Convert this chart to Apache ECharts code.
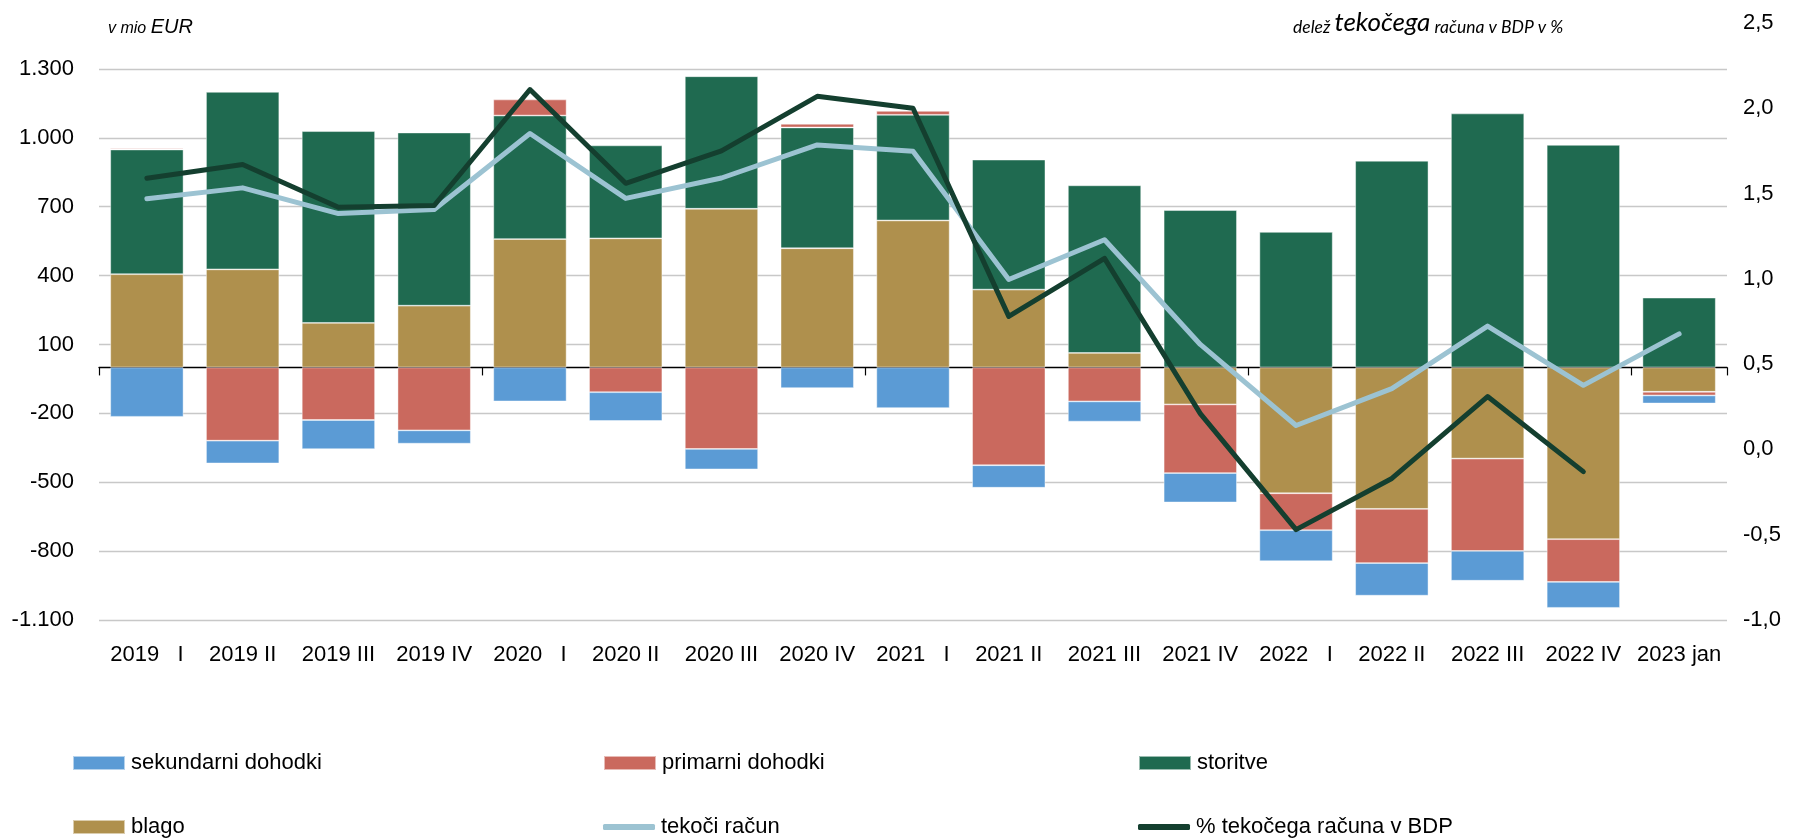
<!DOCTYPE html>
<html>
<head>
<meta charset="utf-8">
<script src="https://cdn.jsdelivr.net/npm/echarts/dist/echarts.min.js"></script>
<style>
html,body{margin:0;padding:0;background:#fff;}
#chart{width:1795px;height:839px;}
</style>
</head>
<body>
<div id="chart"></div>
<script>
const categories = ['2019   I','2019 II','2019 III','2019 IV','2020   I','2020 II','2020 III','2020 IV','2021   I','2021 II','2021 III','2021 IV','2022   I','2022 II','2022 III','2022 IV','2023 jan'];
const blago = [406, 427, 194, 269, 559, 562, 691, 519, 640, 339, 63, -161, -548, -616, -397, -748, -106];
const storitve = [543, 773, 835, 754, 538, 405, 577, 526, 460, 566, 730, 685, 590, 900, 1106, 969, 304];
const primarni = [5, -319, -229, -274, 70, -108, -355, 16, 17, -426, -148, -299, -161, -236, -402, -186, -16];
const sekundarni = [-215, -99, -127, -58, -148, -125, -89, -90, -177, -98, -88, -128, -135, -142, -130, -113, -35];
const tekociRacun = [735, 782, 670, 688, 1019, 736, 825, 969, 941, 383, 556, 100, -253, -92, 180, -78, 146];
const delezBDP = [1.59, 1.67, 1.42, 1.43, 2.11, 1.56, 1.75, 2.07, 2.00, 0.78, 1.12, 0.21, -0.47, -0.17, 0.31, -0.13, null];

const C = {
  sek: '#5B9BD5', prim: '#CA695E', stor: '#1F6A50', blago: '#AF904D',
  tek: '#9CC3D2', bdp: '#143F2F'
};
const axisFont = "'Liberation Sans Narrow','Arial Narrow','Liberation Sans',Arial,sans-serif";
const legFont = "'Liberation Sans',Arial,sans-serif";

function fmtLeft(v){
  const s = String(Math.abs(v)).replace(/\B(?=(\d{3})+(?!\d))/g,'.');
  return (v < 0 ? '-' : '') + s;
}
function fmtRight(v){ return v.toFixed(1).replace('.', ','); }

const chart = echarts.init(document.getElementById('chart'), null, {renderer:'canvas'});
const barBorder = {borderColor:'rgba(255,255,255,0.55)', borderWidth:0.8};

function leg(name, left, top, isLine){
  return {
    data:[name], left:left, top:top, padding:0, itemGap:0,
    icon: isLine ? 'roundRect' : 'rect',
    itemWidth:52, itemHeight: isLine ? 6 : 14, selectedMode:false,
    textStyle:{fontFamily:legFont, fontSize:22, color:'#000', padding:[0,0,0,1]}
  };
}

const option = {
  animation:false,
  backgroundColor:'#fff',
  title:[
    {text:'{a|v mio }{b|EUR}', left:103, top:10,
     textStyle:{rich:{
       a:{fontFamily:legFont, fontStyle:'italic', fontWeight:'normal', fontSize:16, lineHeight:22, verticalAlign:'bottom', color:'#000'},
       b:{fontFamily:legFont, fontStyle:'italic', fontWeight:'normal', fontSize:20, lineHeight:22, verticalAlign:'bottom', color:'#000'}
     }}},
    {text:'{a|delež }{b|tekočega}{a| računa v BDP v %}', left:1288, top:3,
     textStyle:{rich:{
       a:{fontFamily:'Lato,sans-serif', fontStyle:'italic', fontWeight:'normal', fontSize:17.5, lineHeight:28, verticalAlign:'bottom', color:'#000'},
       b:{fontFamily:'Lato,sans-serif', fontStyle:'italic', fontWeight:'normal', fontSize:26, lineHeight:28, verticalAlign:'bottom', color:'#000'}
     }}}
  ],
  legend:[
    leg('sekundarni dohodki', 72, 752),
    leg('primarni dohodki', 603, 752),
    leg('storitve', 1138, 752),
    leg('blago', 72, 816),
    leg('tekoči račun', 603, 816, true),
    leg('% tekočega računa v BDP', 1138, 816, true)
  ],
  grid:{left:99, right:68, top:23, bottom:219, containLabel:false},
  xAxis:[
    {type:'category', data:categories, boundaryGap:true,
     axisLine:{show:true, onZero:true, onZeroAxisIndex:0, lineStyle:{color:'#000', width:1.3}},
     axisTick:{show:true, length:8, interval:function(i){return i % 4 === 0;}, lineStyle:{color:'#000', width:1.2}},
     axisLabel:{show:false}, splitLine:{show:false}},
    {type:'category', data:categories, position:'bottom', boundaryGap:true,
     axisLine:{show:false, onZero:false}, axisTick:{show:false},
     axisLabel:{show:true, interval:0, margin:24, fontFamily:axisFont, fontSize:22, color:'#000'},
     splitLine:{show:false}}
  ],
  yAxis:[
    {type:'value', min:-1100, max:1500, interval:300, position:'left',
     axisLine:{show:false}, axisTick:{show:false},
     axisLabel:{show:true, showMaxLabel:false, margin:25, fontFamily:axisFont, fontSize:22, color:'#000', formatter:fmtLeft},
     splitLine:{show:true, showMaxLine:false, lineStyle:{color:'#C8C8C8', width:1.4}}},
    {type:'value', min:-1, max:2.5, interval:0.5, position:'right',
     axisLine:{show:false}, axisTick:{show:false},
     axisLabel:{show:true, margin:16, align:'left', fontFamily:axisFont, fontSize:22, color:'#000', formatter:fmtRight},
     splitLine:{show:false}}
  ],
  series:[
    {name:'blago', type:'bar', stack:'a', data:blago, barWidth:'76.5%', itemStyle:Object.assign({color:C.blago}, barBorder)},
    {name:'storitve', type:'bar', stack:'a', data:storitve, barWidth:'76.5%', itemStyle:Object.assign({color:C.stor}, barBorder)},
    {name:'primarni dohodki', type:'bar', stack:'a', data:primarni, barWidth:'76.5%', itemStyle:Object.assign({color:C.prim}, barBorder)},
    {name:'sekundarni dohodki', type:'bar', stack:'a', data:sekundarni, barWidth:'76.5%', itemStyle:Object.assign({color:C.sek}, barBorder)},
    {name:'tekoči račun', type:'line', yAxisIndex:0, data:tekociRacun, symbol:'none', z:3,
     lineStyle:{color:C.tek, width:5, cap:'round', join:'round'}, itemStyle:{color:C.tek}},
    {name:'% tekočega računa v BDP', type:'line', yAxisIndex:1, data:delezBDP, symbol:'none', z:4, connectNulls:false,
     lineStyle:{color:C.bdp, width:5, cap:'round', join:'round'}, itemStyle:{color:C.bdp}}
  ]
};
chart.setOption(option);
</script>
</body>
</html>
